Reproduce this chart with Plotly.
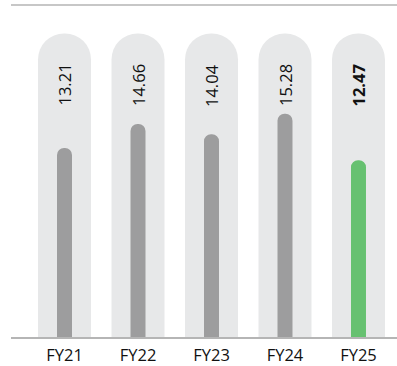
import plotly.graph_objects as go

categories = ["FY21", "FY22", "FY23", "FY24", "FY25"]
values = [13.21, 14.66, 14.04, 15.28, 12.47]
value_labels = ["13.21", "14.66", "14.04", "15.28", "<b>12.47</b>"]
bar_colors = ["#9d9d9e", "#9d9d9e", "#9d9d9e", "#9d9d9e", "#67c171"]
pill_value = 20.14

fig = go.Figure()
fig.add_trace(go.Bar(
    x=categories, y=[pill_value] * len(categories), base=0,
    width=0.721, marker=dict(color="#e7e8e9", cornerradius="50%", line=dict(width=0)),
    hoverinfo="skip", showlegend=False,
))
fig.add_trace(go.Bar(
    x=categories, y=values, base=0,
    width=0.204, marker=dict(color=bar_colors, cornerradius="50%", line=dict(width=0)),
    showlegend=False,
))

for c, lab in zip(categories, value_labels):
    fig.add_annotation(
        x=c, y=18.41, text=lab, textangle=-90, showarrow=False,
        yanchor="top", xanchor="center",
        font=dict(family="Open Sans", size=16.5, color="#111111"),
    )

# top rule
fig.add_shape(type="line", xref="paper", yref="paper", x0=0, x1=1, y0=1, y1=1,
              line=dict(color="#b5b5b5", width=1.5))

fig.update_layout(
    width=397, height=366,
    margin=dict(l=11, r=0, t=5, b=23),
    barmode="overlay",
    plot_bgcolor="white", paper_bgcolor="white",
    font=dict(family="Open Sans", size=16, color="#111111"),
    xaxis=dict(range=[-0.728, 4.524], showgrid=False, showline=True,
               linecolor="#b5b5b5", linewidth=1.5, ticks="", zeroline=False,
               ticklabelstandoff=2,
               tickfont=dict(size=16.5, color="#111111")),
    yaxis=dict(range=[1.77, 21.86], visible=False, showgrid=False, zeroline=False),
)

fig.write_html("out.html")
